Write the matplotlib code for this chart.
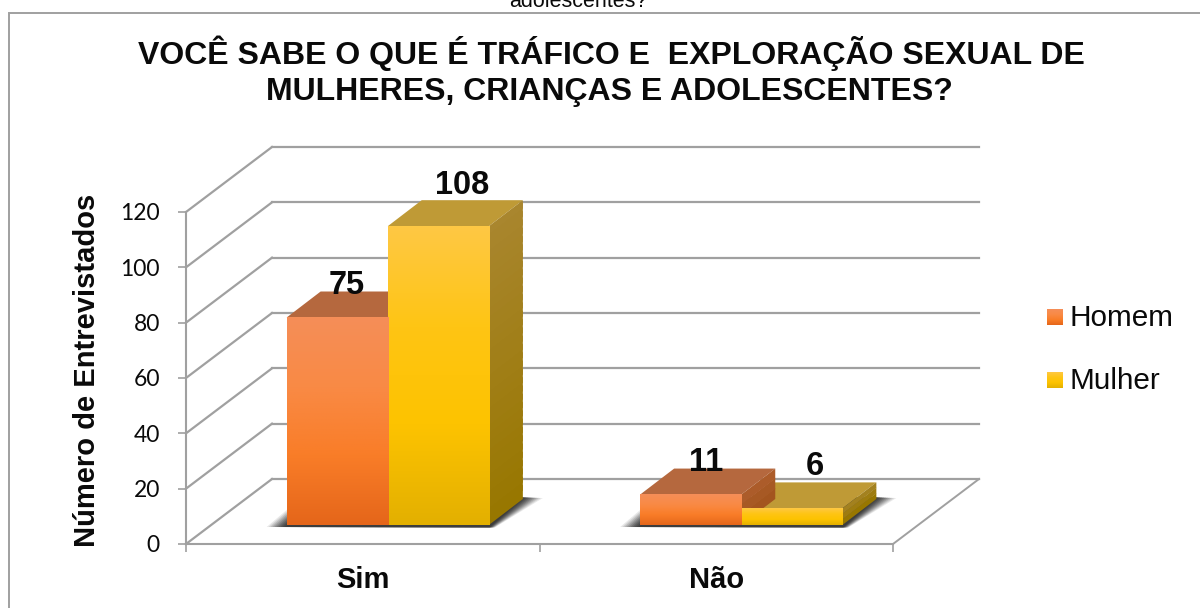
import numpy as np
import matplotlib
matplotlib.use("Agg")
import matplotlib.pyplot as plt
from matplotlib.patches import Polygon, Rectangle
from matplotlib.transforms import Affine2D
from matplotlib.colors import LinearSegmentedColormap, to_rgb

# dados do grafico
categorias = ["Sim", "Não"]
homem = [75, 11]
mulher = [108, 6]
yticks = [0, 20, 40, 60, 80, 100, 120]
titulo1 = "VOCÊ SABE O QUE É TRÁFICO E  EXPLORAÇÃO SEXUAL DE"
titulo2 = "MULHERES, CRIANÇAS E ADOLESCENTES?"
ylabel = "Número de Entrevistados"

W, H = 1200, 608
plt.rcParams["font.family"] = ["Liberation Sans", "DejaVu Sans"]
fig = plt.figure(figsize=(W / 100, H / 100), dpi=100)
preto = "#0a0a0a"
cinza = "#a0a0a0"

# moldura e resto de texto cortado no topo
fig.add_artist(Rectangle((8.5 / W, -0.02), (W + 20) / W, (H - 12.5) / H + 0.02, transform=fig.transFigure,
                         fc="white", ec=cinza, lw=1.4, zorder=-5))
fig.text(578 / W, 1 - 7 / H, "adolescentes?", ha="center", va="baseline", fontsize=15.5, color=preto)

# eixo no plano da frente, em unidades de categoria e de valor
x0, x1, y0, y1 = 186, 893, 544, 212
ax = fig.add_axes([x0 / W, 1 - y0 / H, (x1 - x0) / W, (y0 - y1) / H])
ax.set_xlim(0, 2)
ax.set_ylim(0, 120)
ax.patch.set_visible(False)
for s in ["top", "right"]:
    ax.spines[s].set_visible(False)
for s in ["left", "bottom"]:
    ax.spines[s].set_color(cinza)
    ax.spines[s].set_linewidth(1.5)
ax.set_yticks(yticks)
ax.set_xticks([0, 1, 2])
ax.set_xticklabels([])
ax.tick_params(axis="both", color=cinza, width=1.2, length=5.8)
ax.tick_params(axis="y", labelsize=16.5, labelcolor=preto, pad=13)
for t in ax.get_yticklabels():
    t.set_fontfamily(["Lato", "DejaVu Sans"])

# rotulos de categoria
for i, c in enumerate(categorias):
    ax.annotate(c, (i + 0.5, 0), xytext=(0, -44), textcoords="offset pixels", ha="center", va="baseline",
                fontsize=21, fontweight="bold", color=preto, annotation_clip=False)

fig.text(87 / W, 1 - 370 / H, ylabel, rotation=90, ha="center", va="center",
         fontsize=21, fontweight="bold", color=preto)

# profundidade em pixels
parede = (86, 65)
plano = (25, 19)
prof = (34, 26)

t_fundo = ax.transData + Affine2D().translate(*parede)
t_plano = ax.transData + Affine2D().translate(*plano)

for v in yticks:
    ax.plot([0, 2], [v, v], transform=t_fundo, color=cinza, lw=1.6, clip_on=False, zorder=1)
    # linha da parede lateral
    a = ax.transData.transform((0, v))
    b = a + parede
    ax.plot([a[0], b[0]], [a[1], b[1]], transform=None, color=cinza, lw=1.6, clip_on=False, zorder=1)

a = ax.transData.transform((2, 0))
b = a + parede
ax.plot([a[0], b[0]], [a[1], b[1]], transform=None, color=cinza, lw=1.4, clip_on=False, zorder=1)

larg = 0.286
cm_h = LinearSegmentedColormap.from_list("h", ["#e5661a", "#f97d28", "#f98a45", "#f58e58"])
cm_m = LinearSegmentedColormap.from_list("m", ["#e3b000", "#fdc300", "#ffc514", "#fec844"])
grad = np.linspace(1, 0, 128).reshape(-1, 1)


def px(x, y):
    # posicao em pixels no plano das barras
    return t_plano.transform((x, y))


def sombra(xa, xb):
    a = px(xa, 0)
    b = px(xb, 0)
    d = np.array(prof)
    for e in range(20, 0, -2):
        al = 0.1 + 0.22 * (20 - e) / 20
        pts = [a + (-e, -2), b + (e * 0.3, -2.5), b + d + (e, 2 - e * 0.05), a + d + (-e, 2 - e * 0.05)]
        ax.add_patch(Polygon(pts, closed=True, transform=None, fc="#282828", ec="none", alpha=al,
                             clip_on=False, zorder=2))


def barra(xc, v, cmap, topo, lado0, lado1):
    xa, xb = xc - larg / 2, xc + larg / 2
    d = np.array(prof)
    # topo
    q = [px(xa, v), px(xb, v), px(xb, v) + d, px(xa, v) + d]
    ax.add_patch(Polygon(q, closed=True, transform=None, fc=topo, ec="none", clip_on=False, zorder=3))
    # lado, com degrade feito em fatias
    n = max(3, v // 3)
    for k in range(n):
        f0, f1 = k / n, (k + 1) / n
        q = [px(xb, v * f0), px(xb, v * min(f1 + 0.02, 1)), px(xb, v * min(f1 + 0.02, 1)) + d, px(xb, v * f0) + d]
        c = np.array(to_rgb(lado0)) * (1 - f0) + np.array(to_rgb(lado1)) * f0
        ax.add_patch(Polygon(q, closed=True, transform=None, fc=c, ec="none", clip_on=False, zorder=3))
    # frente
    ax.bar(xc, v, larg, transform=t_plano, color="none", zorder=4, clip_on=False)
    ax.imshow(grad, extent=(xa, xb, 0, v), aspect="auto", cmap=cmap, vmin=0, vmax=1,
              transform=t_plano, zorder=4, clip_on=False)


for i in range(len(categorias)):
    xc = i + 0.5
    sombra(xc - larg, xc + larg)
    barra(xc + larg / 2, mulher[i], cm_m, "#bf9a36", "#987700", "#a9862f")
    barra(xc - larg / 2, homem[i], cm_h, "#b5683e", "#a3551f", "#b0602f")

ax.set_xlim(0, 2)
ax.set_ylim(0, 120)

# rotulos de valor, deslocados em pixels a partir do topo da barra
desl_h = [(9, 24), (15, 24)]
desl_m = [(24, 32), (23, 33)]
for i in range(len(categorias)):
    xc = i + 0.5
    for xb, v, off in [(xc - larg / 2, homem[i], desl_h[i]), (xc + larg / 2, mulher[i], desl_m[i])]:
        p = px(xb, v) + off
        fig.text(p[0] / W, p[1] / H, str(v), ha="center", va="baseline", fontsize=23.5,
                 fontweight="bold", color=preto, zorder=6)

fig.text(611 / W, 1 - 64 / H, titulo1, ha="center", va="baseline", fontsize=23.05, fontweight="bold", color=preto)
fig.text(609 / W, 1 - 100 / H, titulo2, ha="center", va="baseline", fontsize=23.05, fontweight="bold", color=preto)

# legenda
lax = fig.add_axes([0, 0, 1, 1], zorder=5)
lax.patch.set_visible(False)
lax.axis("off")
for nome, cm, yy in [("Homem", cm_h, 317), ("Mulher", cm_m, 380)]:
    lax.imshow(grad, extent=(1047, 1063, yy + 8, yy - 8), aspect="auto", cmap=cm, vmin=0, vmax=1)
    lax.text(1069, yy + 1, nome, va="center", ha="left", fontsize=21.4, color=preto)
lax.set_xlim(0, W)
lax.set_ylim(H, 0)

fig.savefig("out.png", dpi=100)
